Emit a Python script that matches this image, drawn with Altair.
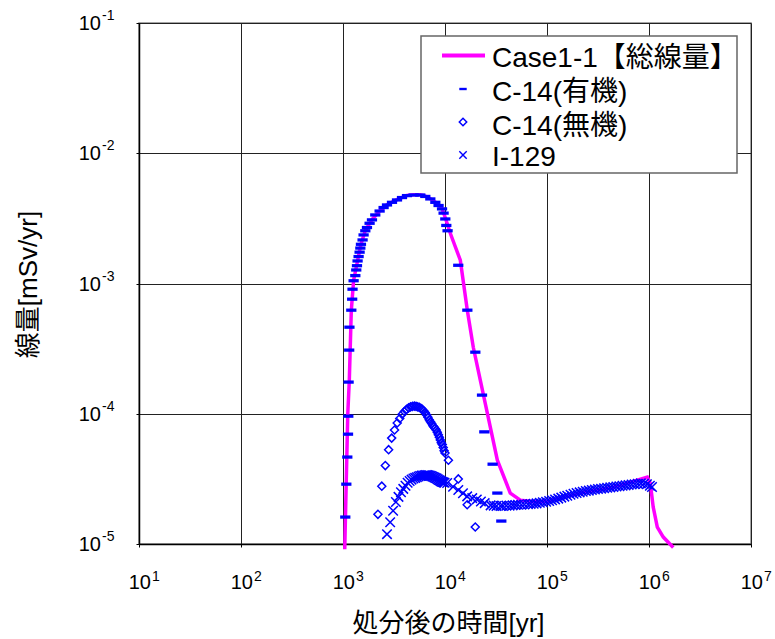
import altair as alt
import pandas as pd

# ---------------- data ----------------
# Case1-1 total dose (magenta line)
total_t = [1040, 1077, 1114, 1153, 1206, 1271, 1390, 1500, 1655, 1923, 2286, 2700, 3384,
           4240, 4920, 5725, 6410, 7180, 8040, 8650, 9350, 10070, 11270, 14130, 16560,
           18940, 22180, 26000, 32600, 43650, 54700, 80300, 103000, 212000, 447000,
           767000, 962000, 1030000, 1100000, 1206000, 1380000, 1730000]
total_v = [9.1e-6, 3.1e-5, 1.0e-4, 1.8e-4, 6.2e-4, 1.06e-3, 1.5e-3, 2.0e-3, 2.55e-3, 3.1e-3,
           3.6e-3, 4.02e-3, 4.4e-3, 4.75e-3, 4.8e-3, 4.8e-3, 4.68e-3, 4.48e-3, 4.22e-3,
           3.99e-3, 3.76e-3, 3.2e-3, 2.43e-3, 1.51e-3, 6.2e-4, 3.24e-4, 1.81e-4, 1.01e-4,
           4.4e-5, 2.46e-5, 2.17e-5, 2.1e-5, 2.13e-5, 2.46e-5, 2.73e-5, 3.09e-5, 3.26e-5,
           2.93e-5, 1.92e-5, 1.35e-5, 1.13e-5, 9.4e-6]

# C-14 (organic) - dash markers
org_t = [1053, 1078, 1102, 1120, 1127, 1135, 1150, 1156, 1206, 1230, 1240, 1271, 1321, 1349,
         1371, 1390, 1422, 1455, 1479, 1500, 1556, 1592, 1655, 1718, 1823, 1923, 2073, 2286,
         2501, 2700, 3022, 3384, 3788, 4240, 4920, 5725, 6410, 7180, 8040, 8650, 9350, 9690,
         10070, 10300, 10600, 13490, 16560, 19830, 23060, 24290, 29300, 32600, 35650]
org_v = [1.61e-5, 2.88e-5, 4.65e-5, 6.97e-5, 9.58e-5, 1.75e-4, 3.08e-4, 4.62e-4, 6.24e-4,
         7.58e-4, 9.04e-4, 1.05e-3, 1.15e-3, 1.27e-3, 1.37e-3, 1.49e-3, 1.61e-3, 1.74e-3,
         1.87e-3, 2.0e-3, 2.16e-3, 2.36e-3, 2.54e-3, 2.69e-3, 2.9e-3, 3.08e-3, 3.36e-3,
         3.6e-3, 3.83e-3, 4.01e-3, 4.2e-3, 4.38e-3, 4.57e-3, 4.73e-3, 4.78e-3, 4.78e-3,
         4.66e-3, 4.46e-3, 4.2e-3, 3.97e-3, 3.74e-3, 3.47e-3, 3.13e-3, 2.79e-3, 2.54e-3,
         1.38e-3, 6.24e-4, 2.97e-4, 1.39e-4, 7.26e-5, 4.1e-5, 2.46e-5, 1.5e-5]

# C-14 (inorganic) - hollow diamonds
inorg_t = [2200, 2400, 2600, 2800, 3000, 3200, 3400, 3600, 3800, 4000, 4200, 4400, 4600,
           4800, 5000, 5200, 5400, 5600, 5800, 6000, 6200, 6400, 6600, 6800, 7000, 7200,
           7400, 7600, 7800, 8000, 8200, 8400, 8600, 8800, 9000, 9200, 9400, 9600, 9800,
           10000, 10800, 13500, 16500, 19800]
inorg_v = [1.69e-5, 2.78e-5, 4.0e-5, 5.3e-5, 6.5e-5, 7.5e-5, 8.5e-5, 9.2e-5, 9.9e-5, 1.04e-4,
           1.08e-4, 1.11e-4, 1.13e-4, 1.14e-4, 1.145e-4, 1.14e-4, 1.13e-4, 1.12e-4, 1.10e-4,
           1.08e-4, 1.05e-4, 1.02e-4, 9.8e-5, 9.4e-5, 9.0e-5, 8.7e-5, 8.4e-5, 8.1e-5, 7.9e-5,
           7.7e-5, 7.5e-5, 7.2e-5, 6.9e-5, 6.6e-5, 6.3e-5, 6.0e-5, 5.8e-5, 5.5e-5, 5.2e-5,
           5.0e-5, 4.4e-5, 3.16e-5, 2.0e-5, 1.35e-5]

# I-129 - x markers
i129_t = [2700, 2900, 3100, 3300, 3500, 3700, 3900, 4100, 4300, 4500, 4700, 4900, 5100, 5300,
          5500, 5700, 5900, 6100, 6300, 6500, 6700, 6900, 7100, 7300, 7500, 7700, 7900, 8100,
          8300, 8500, 8700, 8900, 9100, 9300, 9500, 9700, 9900, 10500, 12000, 13500, 15000,
          16500, 18500, 20500, 22500, 24500,
          28000, 30000, 32000, 35000, 37000, 40000, 43000, 46000, 49000, 52000, 56000, 60000,
          65000, 69000, 74000, 79000, 85000, 91000, 98000, 105000, 112000, 120000, 129000,
          138000, 148000, 158000, 170000, 182000, 195000, 209000, 224000, 240000, 257000,
          275000, 295000, 316000, 339000, 363000, 389000, 417000, 447000, 479000, 513000,
          550000, 589000, 631000, 676000, 724000, 776000, 832000, 891000, 955000, 1020000,
          1070000]
i129_v = [1.19e-5, 1.47e-5, 1.8e-5, 2.1e-5, 2.3e-5, 2.5e-5, 2.65e-5, 2.8e-5, 2.95e-5, 3.05e-5,
          3.12e-5, 3.18e-5, 3.22e-5, 3.26e-5, 3.3e-5, 3.33e-5, 3.35e-5, 3.36e-5, 3.37e-5,
          3.38e-5, 3.38e-5, 3.37e-5, 3.35e-5, 3.33e-5, 3.3e-5, 3.27e-5, 3.24e-5, 3.21e-5,
          3.18e-5, 3.14e-5, 3.1e-5, 3.07e-5, 3.04e-5, 3.01e-5, 2.99e-5, 2.97e-5, 2.95e-5,
          2.94e-5, 2.75e-5, 2.6e-5, 2.45e-5, 2.32e-5, 2.25e-5, 2.2e-5, 2.12e-5, 2.06e-5,
          1.98e-5, 1.97e-5, 1.96e-5, 1.96e-5, 1.96e-5, 1.97e-5, 1.97e-5, 1.98e-5, 1.99e-5,
          2.0e-5, 2.0e-5, 2.01e-5, 2.02e-5, 2.03e-5, 2.04e-5, 2.05e-5, 2.07e-5, 2.09e-5,
          2.11e-5, 2.14e-5, 2.17e-5, 2.2e-5, 2.23e-5, 2.27e-5, 2.31e-5, 2.35e-5, 2.39e-5,
          2.43e-5, 2.46e-5, 2.49e-5, 2.52e-5, 2.55e-5, 2.57e-5, 2.6e-5, 2.62e-5, 2.64e-5,
          2.66e-5, 2.68e-5, 2.7e-5, 2.72e-5, 2.74e-5, 2.76e-5, 2.78e-5, 2.8e-5, 2.82e-5,
          2.84e-5, 2.86e-5, 2.88e-5, 2.9e-5, 2.92e-5, 2.9e-5, 2.88e-5, 2.8e-5, 2.74e-5]

# axis ticks
x_ticks = [10, 100, 1000, 1e4, 1e5, 1e6, 1e7]
x_exps = ["1", "2", "3", "4", "5", "6", "7"]
y_ticks = [1e-1, 1e-2, 1e-3, 1e-4, 1e-5]
y_exps = ["-1", "-2", "-3", "-4", "-5"]

legend_labels = ["Case1-1【総線量】", "C-14(有機)", "C-14(無機)", "I-129"]
x_title = "処分後の時間[yr]"
y_title = "線量[mSv/yr]"

# ---------------- chart ----------------
FONT = "Liberation Sans, Arial, Noto Sans CJK JP, sans-serif"
W, H = 612, 521
BLUE = "#0000FF"
MAGENTA = "#FF00FF"

xs = alt.Scale(type="log", domain=[10, 1e7], nice=False)
ys = alt.Scale(type="log", domain=[1e-5, 1e-1], nice=False)


def X():
    return alt.X("t:Q", scale=xs, axis=alt.Axis(
        values=x_ticks, labels=False, ticks=True, tickSize=3, tickColor="#000",
        grid=True, gridColor="#222", gridWidth=1, domainColor="#000", domainWidth=1.5,
        title=x_title, titleFont=FONT, titleFontSize=26, titleFontWeight="normal",
        titleColor="#000", titleX=309, titleY=79, titleBaseline="middle", titleAlign="center"))


def Y():
    return alt.Y("v:Q", scale=ys, axis=alt.Axis(
        values=y_ticks, labels=False, ticks=True, tickSize=3, tickColor="#000",
        grid=True, gridColor="#222", gridWidth=1, domainColor="#000", domainWidth=1.5,
        title=y_title, titleFont=FONT, titleFontSize=26, titleFontWeight="normal",
        titleColor="#000", titleX=-111, titleY=261, titleBaseline="middle",
        titleAlign="center", titleAngle=-90))


df_total = pd.DataFrame({"t": total_t, "v": total_v})
df_org = pd.DataFrame({"t": org_t, "v": org_v})
df_inorg = pd.DataFrame({"t": inorg_t, "v": inorg_v})
df_i129 = pd.DataFrame({"t": i129_t, "v": i129_v})

DASH = "M-1,-0.32L1,-0.32L1,0.32L-1,0.32Z"
XMARK = "M-1,-1L1,1M-1,1L1,-1"

line = alt.Chart(df_total).mark_line(color=MAGENTA, strokeWidth=3.5).encode(x=X(), y=Y())
org = alt.Chart(df_org).mark_point(shape=DASH, filled=True, color=BLUE, size=105,
                                   opacity=1, strokeWidth=0).encode(x=X(), y=Y())
inorg = alt.Chart(df_inorg).mark_point(shape="diamond", filled=False, color=BLUE, size=64,
                                       opacity=1, strokeWidth=1.5).encode(x=X(), y=Y())
i129 = alt.Chart(df_i129).mark_point(shape=XMARK, filled=False, color=BLUE, size=90,
                                     opacity=1, strokeWidth=1.5).encode(x=X(), y=Y())

# tick labels (10 with superscript exponent)
df_xt = pd.DataFrame({"t": x_ticks, "v": [1e-5] * len(x_ticks), "e": x_exps})
df_yt = pd.DataFrame({"t": [10] * len(y_ticks), "v": y_ticks, "e": y_exps})
xt_base = alt.Chart(df_xt).mark_text(font=FONT, fontSize=20, align="right", baseline="alphabetic",
                                     dx=12, dy=45, color="#000").encode(
    x=X(), y=Y(), text=alt.value("10"))
xt_exp = alt.Chart(df_xt).mark_text(font=FONT, fontSize=14, align="left", baseline="alphabetic",
                                    dx=13, dy=37, color="#000").encode(
    x=X(), y=Y(), text="e:N")
yt_base = alt.Chart(df_yt).mark_text(font=FONT, fontSize=20, align="right", baseline="middle",
                                     dx=-38, dy=1, color="#000").encode(
    x=X(), y=Y(), text=alt.value("10"))
yt_exp = alt.Chart(df_yt).mark_text(font=FONT, fontSize=14, align="left", baseline="middle",
                                    dx=-37, dy=-7, color="#000").encode(
    x=X(), y=Y(), text="e:N")

# legend (inside plot, top right)
one = pd.DataFrame({"a": [0]})
lg_box = alt.Chart(one).mark_rect(fill="white", stroke="#666", strokeWidth=1.5).encode(
    x=alt.value(282), x2=alt.value(598), y=alt.value(13), y2=alt.value(150))
lg_line = alt.Chart(one).mark_rule(color=MAGENTA, strokeWidth=4).encode(
    x=alt.value(303), x2=alt.value(346), y=alt.value(32.5))
lg_dash = alt.Chart(one).mark_point(shape=DASH, filled=True, color=BLUE, size=55, opacity=1,
                                    strokeWidth=0).encode(x=alt.value(324), y=alt.value(66))
lg_dia = alt.Chart(one).mark_point(shape="diamond", filled=False, color=BLUE, size=55, opacity=1,
                                   strokeWidth=1.5).encode(x=alt.value(324), y=alt.value(99))
lg_x = alt.Chart(one).mark_point(shape=XMARK, filled=False, color=BLUE, size=55, opacity=1,
                                 strokeWidth=1.4).encode(x=alt.value(324), y=alt.value(132))
row_y = [44, 78, 111.5, 143]
lg_texts = [
    alt.Chart(one).mark_text(font=FONT, fontSize=28, align="left", baseline="alphabetic",
                             color="#000").encode(
        x=alt.value(353), y=alt.value(row_y[i]), text=alt.value(legend_labels[i]))
    for i in range(4)
]

chart = alt.layer(
    line, org, inorg, i129, xt_base, xt_exp, yt_base, yt_exp,
    lg_box, lg_line, lg_dash, lg_dia, lg_x, *lg_texts
).properties(
    width=W, height=H,
    padding={"left": 139, "top": 23, "right": 24, "bottom": 95},
    autosize=alt.AutoSizeParams(type="none"),
    background="white",
).configure_view(stroke="#888", strokeWidth=1.5)

chart.save("out.html", embed_options={"renderer": "svg", "actions": False})
